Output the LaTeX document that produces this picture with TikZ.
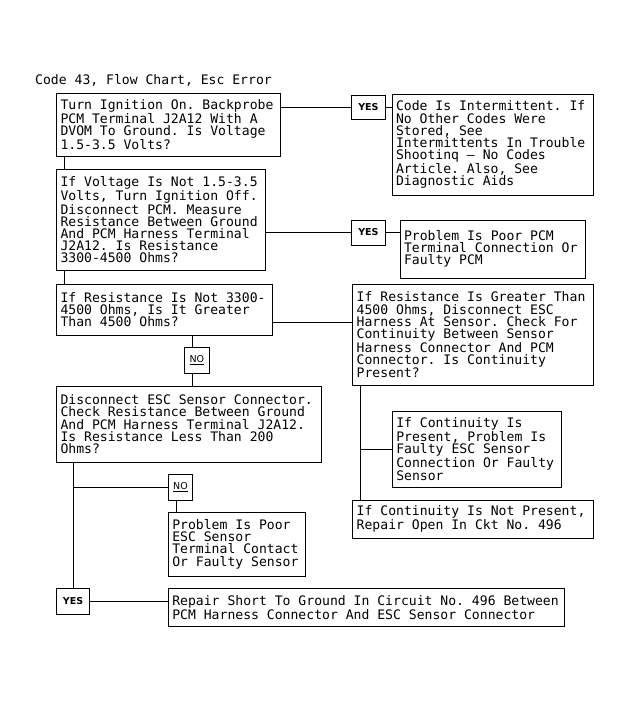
\documentclass[tikz,border=0pt]{standalone}
\usepackage{fontspec}
\newfontfamily\monofont{DejaVu Sans Mono}
\newfontfamily\labfont{DejaVu Sans}
\newcommand\boxfont{\monofont\fontsize{13.1}{12.2}\selectfont}
\newcommand\yesfont{\labfont\bfseries\fontsize{9.5}{11}\selectfont}
\newcommand\nofont{\labfont\fontsize{9.5}{11}\selectfont}
\tikzset{
  box/.style={draw, line width=0.9pt, anchor=north west, inner xsep=4pt, inner ysep=0pt,
    align=flush left, font=\boxfont, outer sep=0pt,
    execute at begin node={\spaceskip=\fontdimen2\font\xspaceskip=\fontdimen2\font}},
  lab/.style={draw, line width=0.9pt, anchor=north west, inner sep=0pt, outer sep=0pt},
  conn/.style={line width=0.9pt}
}
\begin{document}
\begin{tikzpicture}[x=1pt,y=-1pt]
\useasboundingbox (0,0) rectangle (631,703);
\node[anchor=base west, inner sep=0pt, font=\boxfont] (title) at (35,85) {Code 43, Flow Chart, Esc Error};

\node[box, text width=216.2pt, minimum height=63.4pt] (b1) at (56.5,93.3)
  {Turn Ignition On. Backprobe\\PCM Terminal J2A12 With A\\DVOM To Ground. Is Voltage\\1.5-3.5 Volts?};
\node[box, text width=193pt, minimum height=100.7pt] (r1) at (392,94.3)
  {Code Is Intermittent. If\\No Other Codes Were\\Stored, See\\Intermittents In Trouble\\Shootinq – No Codes\\Article. Also, See\\Diagnostic Aids};
\node[box, text width=200.5pt, minimum height=101.7pt] (b2) at (56.5,169)
  {If Voltage Is Not 1.5-3.5\\Volts, Turn Ignition Off.\\Disconnect PCM. Measure\\Resistance Between Ground\\And PCM Harness Terminal\\J2A12. Is Resistance\\3300-4500 Ohms?};
\node[box, text width=177pt, minimum height=58pt] (r2) at (400,220)
  {Problem Is Poor PCM\\Terminal Connection Or\\Faulty PCM};
\node[box, text width=208.2pt, minimum height=50.3pt] (b3) at (56.5,284.7)
  {If Resistance Is Not 3300-\\4500 Ohms, Is It Greater\\Than 4500 Ohms?};
\node[box, text width=232.6pt, minimum height=100.6pt] (b4) at (352.7,284.7)
  {If Resistance Is Greater Than\\4500 Ohms, Disconnect ESC\\Harness At Sensor. Check For\\Continuity Between Sensor\\Harness Connector And PCM\\Connector. Is Continuity\\Present?};
\node[box, text width=256.5pt, minimum height=76.3pt] (b5) at (56.5,386)
  {Disconnect ESC Sensor Connector.\\Check Resistance Between Ground\\And PCM Harness Terminal J2A12.\\Is Resistance Less Than 200\\Ohms?};
\node[box, text width=160.7pt, minimum height=75.6pt] (b6) at (392.3,411.7)
  {If Continuity Is\\Present, Problem Is\\Faulty ESC Sensor\\Connection Or Faulty\\Sensor};
\node[box, text width=232.6pt, minimum height=38.3pt] (b7) at (352.7,500)
  {If Continuity Is Not Present,\\Repair Open In Ckt No. 496};
\node[box, text width=128.7pt, minimum height=63.7pt] (b8) at (168.3,512.3)
  {Problem Is Poor\\ESC Sensor\\Terminal Contact\\Or Faulty Sensor};
\node[box, text width=388pt, minimum height=38.4pt] (b9) at (168.3,588.3)
  {Repair Short To Ground In Circuit No. 496 Between\\PCM Harness Connector And ESC Sensor Connector};

\node[lab, minimum width=33.3pt, minimum height=24pt, font=\yesfont] (yes1) at (351.7,95) {YES};
\node[lab, minimum width=33.3pt, minimum height=25pt, font=\yesfont] (yes2) at (351.7,220) {YES};
\node[lab, minimum width=32.6pt, minimum height=25.7pt, font=\yesfont] (yes3) at (56.7,588.3) {YES};
\node[lab, minimum width=25pt, minimum height=25.6pt, font=\nofont] (no1) at (184.3,347.7) {\underline{NO}};
\node[lab, minimum width=24.4pt, minimum height=25.7pt, font=\nofont] (no2) at (168.3,474.3) {\underline{NO}};

% connectors
\draw[conn] (yes1.west -| b1.east) -- (yes1.west);
\draw[conn] (yes1.east) -- (yes1.east -| r1.west);
\draw[conn] (yes2.west -| b2.east) -- (yes2.west);
\draw[conn] (yes2.east) -- (yes2.east -| r2.west);
\draw[conn] ([xshift=7.5pt]b1.south west) -- ([xshift=7.5pt]b2.north west);
\draw[conn] ([xshift=7.5pt]b2.south west) -- ([xshift=7.5pt]b3.north west);
\draw[conn] ([yshift=12.7pt]b3.south east) -- ([yshift=12.7pt]b3.south east -| b4.west);
\draw[conn] ([xshift=-4pt]no1.north) -- ([xshift=-4pt]no1.north |- b3.south);
\draw[conn] ([xshift=-4pt]no1.south) -- ([xshift=-4pt]no1.south |- b5.north);
\draw[conn] (yes3.north |- b5.south) -- (yes3.north);
\draw[conn] (no2.west -| yes3.north) -- (no2.west);
\draw[conn] ([xshift=-4.5pt]no2.south) -- ([xshift=-4.5pt]no2.south |- b8.north);
\draw[conn] (yes3.east) -- (yes3.east -| b9.west);
\draw[conn] ([xshift=8pt]b4.south west) -- ([xshift=8pt]b7.north west);
\draw[conn] (b6.west -| b7.west) ++(8pt,0) -- (b6.west);
\end{tikzpicture}
\end{document}
